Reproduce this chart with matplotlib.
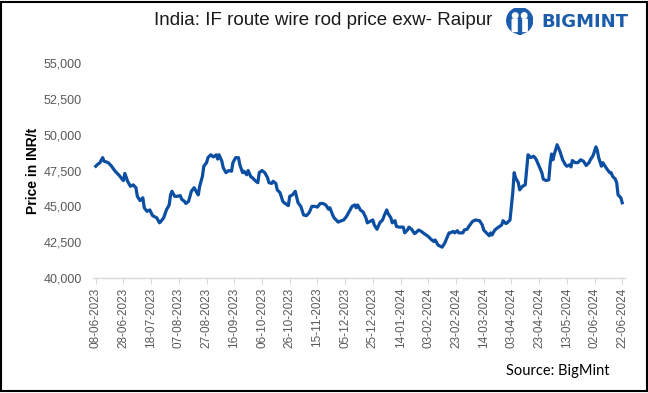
import pandas as pd
import matplotlib
matplotlib.use('Agg')
import matplotlib.pyplot as plt
import matplotlib.dates as mdates
from matplotlib.patches import Rectangle, Circle, FancyBboxPatch
from matplotlib.ticker import FuncFormatter

START_DATE = '2023-06-08'
TICK_STEP  = 20   # days between date labels
N_TICKS    = 20

# days since 08-06-2023 and the Raipur ex-works price (INR/t)
DAYS = [0, 1, 3, 5, 6, 9, 11, 14, 15, 17, 19, 20, 21, 23, 25, 27, 29, 30, 32, 34,
        35, 37, 39, 41, 43, 44, 46, 47, 49, 51, 53, 54, 55, 57, 59, 61, 62, 64, 65, 67,
        69, 71, 73, 74, 75, 77, 78, 80, 81, 83, 85, 87, 88, 89, 91, 92, 94, 96, 98, 99,
        101, 103, 104, 106, 107, 109, 110, 112, 113, 115, 117, 118, 120, 122, 124, 125,
        127, 128, 130, 131, 133, 135, 136, 139, 140, 142, 144, 146, 148, 150, 152, 154,
        156, 158, 160, 162, 164, 166, 168, 169, 171, 172, 175, 176, 179, 181, 183, 185,
        187, 188, 189, 191, 193, 195, 196, 198, 200, 201, 203, 205, 207, 208, 210, 211,
        213, 214, 216, 217, 219, 220, 222, 223, 225, 226, 228, 230, 231, 233, 235, 237,
        240, 242, 244, 245, 247, 249, 250, 252, 253, 255, 256, 258, 259, 261, 262, 265,
        266, 268, 270, 272, 274, 277, 279, 280, 282, 284, 285, 286, 288, 290, 293, 294,
        296, 297, 299, 300, 301, 302, 303, 305, 306, 308, 310, 311, 312, 314, 316, 317,
        318, 320, 322, 323, 325, 327, 328, 329, 330, 331, 333, 335, 337, 339, 340, 342,
        343, 344, 346, 348, 350, 352, 354, 356, 357, 359, 361, 362, 363, 365, 366, 367,
        369, 371, 372, 373, 375, 376, 377, 379, 380]

PRICES = [47800, 47900, 48050, 48400, 48150, 48050, 47850, 47450, 47350, 47150,
          46900, 46800, 47300, 46750, 46400, 46500, 46300, 45700, 45400, 45600,
          44900, 44650, 44750, 44350, 44250, 44200, 43850, 43950, 44200, 44750,
          45100, 45800, 46050, 45700, 45700, 45750, 45500, 45350, 45200, 45350,
          46050, 46300, 45950, 45800, 46400, 47100, 47800, 48050, 48400, 48600,
          48450, 48600, 48300, 48600, 48150, 47700, 47350, 47500, 47450, 48050,
          48400, 48400, 47900, 47350, 47450, 47200, 47500, 47050, 47000, 46800,
          46650, 47350, 47500, 47350, 47000, 46650, 46600, 46750, 46600, 46150,
          45950, 45350, 45250, 45050, 45700, 45800, 46050, 45250, 45000, 44400,
          44350, 44550, 45000, 45000, 44950, 45200, 45200, 45100, 44800, 44900,
          44400, 44200, 43900, 43950, 44050, 44300, 44650, 45000, 45100, 44900,
          45100, 44750, 44600, 44200, 43850, 43950, 44050, 43700, 43400, 43850,
          44050, 44300, 44750, 44500, 44200, 43850, 44000, 43600, 43550, 43550,
          43550, 43150, 43350, 43550, 43400, 43100, 43150, 43350, 43250, 43100,
          42900, 42700, 42550, 42650, 42300, 42200, 42150, 42450, 42700, 43150,
          43150, 43250, 43150, 43300, 43150, 43150, 43350, 43400, 43700, 43950,
          44050, 44000, 43700, 43350, 43150, 42950, 43150, 43000, 43350, 43500,
          43700, 44000, 43800, 43850, 44050, 45000, 45950, 47350, 47000, 46650,
          46150, 46400, 46500, 47550, 48600, 48400, 48500, 48400, 48250, 47800,
          47350, 46900, 46800, 46850, 48000, 48650, 48250, 48650, 49300, 48850,
          48250, 47900, 47800, 47900, 47750, 48200, 48050, 48050, 48250, 48150,
          47850, 48050, 48250, 48550, 49150, 48900, 48400, 47800, 48050, 47900,
          47600, 47350, 47350, 47100, 46900, 46650, 45800, 45600, 45250]

Y_TICKS = [40000, 42500, 45000, 47500, 50000, 52500, 55000]

LINE_COLOR = '#0B4EA2'
TICK_COLOR = '#595959'
LOGO_BLUE  = '#1C5DAB'

start = pd.Timestamp(START_DATE)
dates = start + pd.to_timedelta(DAYS, unit='D')
tick_dates = [start + pd.Timedelta(days=TICK_STEP * i) for i in range(N_TICKS)]

fig = plt.figure(figsize=(6.48, 3.93), dpi=100)
ax = fig.add_axes([0.1435, 0.2926, 0.821, 0.547])

ax.plot(dates, PRICES, color=LINE_COLOR, linewidth=2.3, solid_joinstyle='round')

ax.set_ylim(40000, 55000)
ax.set_yticks(Y_TICKS)
ax.yaxis.set_major_formatter(FuncFormatter(lambda v, p: f'{int(v):,}'))
ax.set_xlim(tick_dates[0] - pd.Timedelta(days=2), tick_dates[-1] + pd.Timedelta(days=2))
ax.set_xticks(tick_dates)
ax.xaxis.set_major_formatter(mdates.DateFormatter('%d-%m-%Y'))

for s in ['top', 'right', 'left']:
    ax.spines[s].set_visible(False)
ax.spines['bottom'].set_color('#D9D9D9')
ax.spines['bottom'].set_linewidth(1.0)

ax.tick_params(axis='y', length=0, pad=8, labelsize=9, labelcolor=TICK_COLOR)
ax.tick_params(axis='x', length=4, width=0.8, color='#D9D9D9', direction='out',
               pad=3, labelsize=8.5, labelcolor=TICK_COLOR, labelrotation=90)
for lab in ax.get_xticklabels() + ax.get_yticklabels():
    lab.set_family('Liberation Sans')

ax.set_ylabel('Price in INR/t', fontsize=10, fontweight='bold', family='Liberation Sans',
              color='black')
ax.yaxis.set_label_coords(-0.1, 0.5)

fig.text(0.4985, 0.948, 'India: IF route wire rod price exw- Raipur', ha='center', va='center',
         fontsize=13.5, family=['Liberation Sans Narrow', 'Liberation Sans'], color='#1A1A1A')

# logo
fig.text(0.836, 0.943, 'BIGMINT', ha='left', va='center', fontsize=13,
         fontweight='bold', family='DejaVu Sans', color=LOGO_BLUE)
lax = fig.add_axes([0.781, 0.91, 0.042, 0.072])
lax.set_xlim(-1, 1)
lax.set_ylim(-1, 1)
lax.set_aspect('equal')
lax.axis('off')
lax.add_patch(Circle((0, 0.05), 0.95, color=LOGO_BLUE))
lax.add_patch(Circle((-0.33, 0.42), 0.2, color='white'))
lax.add_patch(Circle((0.33, 0.42), 0.2, color='white'))
lax.add_patch(FancyBboxPatch((-0.5, -0.7), 0.3, 0.8, boxstyle='round,pad=0.05', color='white'))
lax.add_patch(FancyBboxPatch((0.2, -0.7), 0.3, 0.8, boxstyle='round,pad=0.05', color='white'))
lax.add_patch(Rectangle((-0.12, -0.95), 0.24, 1.1, color=LOGO_BLUE))

fig.text(0.941, 0.056, 'Source: BigMint', ha='right', va='center', fontsize=10.5,
         family=['Lato', 'DejaVu Sans'], color='black')

fig.patches.append(Rectangle((0.002, 0.006), 0.996, 0.99, transform=fig.transFigure,
                             fill=False, edgecolor='black', linewidth=1.5))

plt.savefig('out.png', dpi=100)
plt.close()
